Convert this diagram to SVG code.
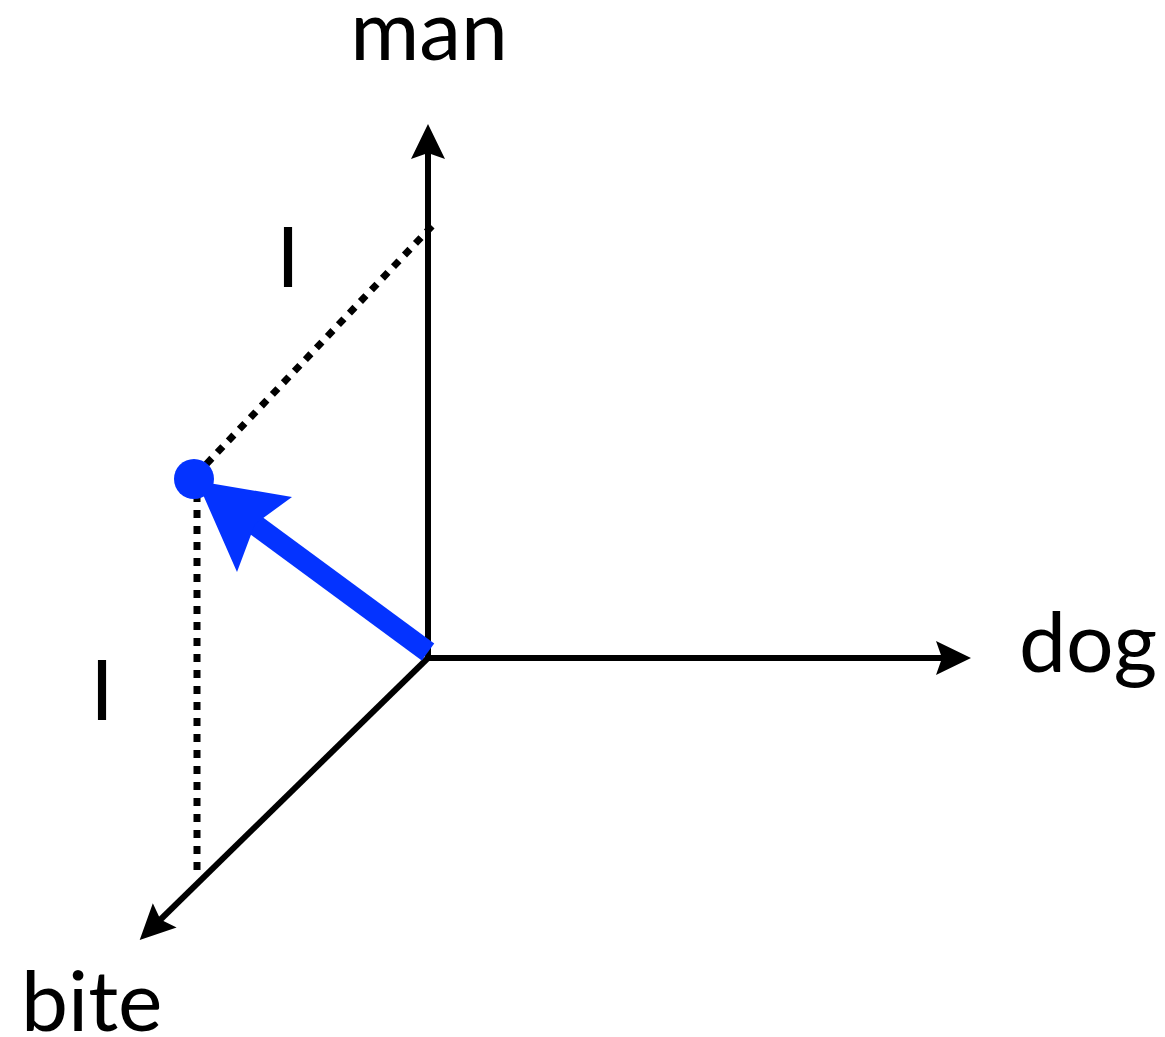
<svg xmlns="http://www.w3.org/2000/svg" width="1165" height="1037" viewBox="0 0 1165 1037">
<style>
.axis{stroke:#000;stroke-width:6;fill:none}
.dot{stroke:#000;stroke-width:7;fill:none;stroke-dasharray:8 8}
.lbl{font-family:Lato,"Open Sans","Liberation Sans",sans-serif;font-size:84px;fill:#000}
</style>
<defs>
<marker id="ah" markerUnits="userSpaceOnUse" orient="auto" refX="0" refY="0" markerWidth="60" markerHeight="60" overflow="visible">
<path d="M27,0 L-8,-17 L-2,0 L-8,17 Z" fill="#000"/>
</marker>
</defs>
<rect width="1165" height="1037" fill="#fff"/>
<g id="connectors">
<line class="dot" x1="432" y1="226" x2="195" y2="476"/>
<line class="dot" x1="197" y1="494" x2="197" y2="878"/>
<line class="axis" x1="428" y1="661" x2="428" y2="151" marker-end="url(#ah)"/>
<line class="axis" x1="426" y1="658" x2="944" y2="658" marker-end="url(#ah)"/>
<line class="axis" x1="429" y1="657" x2="159" y2="921" marker-end="url(#ah)"/>
</g>
<g id="vector">
<line x1="428" y1="652" x2="250" y2="521" stroke="#0433FF" stroke-width="21"/>
<polygon points="197,481 292,497 255,524 237,572" fill="#0433FF"/>
<circle cx="194" cy="479" r="20" fill="#0433FF"/>
</g>
<g id="man"><text class="lbl" x="429" y="60" text-anchor="middle">man</text></g>
<g id="dog"><text class="lbl" x="1019" y="672">dog</text></g>
<g id="bite"><text class="lbl" x="21" y="1031">bite</text></g>
<g id="label1"><text class="lbl" x="288" y="287" text-anchor="middle">I</text></g>
<g id="label2"><text class="lbl" x="102" y="720" text-anchor="middle">I</text></g>
</svg>
